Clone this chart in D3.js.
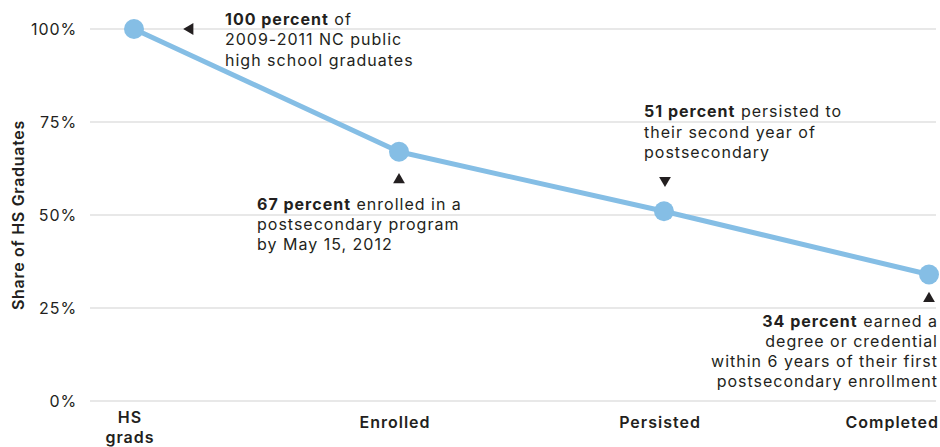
<!DOCTYPE html>
<html>
<head>
<meta charset="utf-8">
<script src="https://cdn.jsdelivr.net/npm/d3@7/dist/d3.min.js"></script>
<style>
  html, body { margin: 0; padding: 0; background: #fff; }
  svg { display: block; font-family: Inter, "Open Sans", sans-serif; }
</style>
</head>
<body>
<svg id="chart" width="940" height="447"></svg>
<script>
// Stages of the postsecondary pipeline and the share of graduates reaching each
const stages = ["HS grads", "Enrolled", "Persisted", "Completed"];
const shares = [100, 67, 51, 34];
const yTicks = [0, 25, 50, 75, 100];

// Axis label lines for each stage
const stageLabels = [["HS", "grads"], ["Enrolled"], ["Persisted"], ["Completed"]];

// Callout text for each stage: bold lead, then the rest of the lines
const noteLead = ["100 percent", "67 percent", "51 percent", "34 percent"];
const noteLines = [
  [" of", "2009-2011 NC public", "high school graduates"],
  [" enrolled in a", "postsecondary program", "by May 15, 2012"],
  [" persisted to", "their second year of", "postsecondary"],
  [" earned a", "degree or credential", "within 6 years of their first", "postsecondary enrollment"]
];

const svg = d3.select("#chart");

const x = d3.scalePoint().domain(stages).range([134, 929]);
const y = d3.scaleLinear().domain([0, 100]).range([401, 29]);

const lineColor = "#85bee5";
const textColor = "#231f20";
const fontSize = 16;

// Horizontal gridlines
svg.append("g")
  .selectAll("line")
  .data(yTicks)
  .join("line")
  .attr("x1", 90).attr("x2", 936)
  .attr("y1", d => y(d)).attr("y2", d => y(d))
  .attr("stroke", "#e0e0e0")
  .attr("stroke-width", 1.5);

// Y axis tick labels
const yAxis = d3.axisLeft(y).tickValues(yTicks).tickFormat(d => d + "%").tickSize(0).tickPadding(0);
svg.append("g")
  .attr("transform", "translate(77,0)")
  .call(yAxis)
  .call(g => g.select(".domain").remove())
  .call(g => g.selectAll("text")
    .attr("font-family", "Inter, sans-serif")
    .attr("font-size", 16)
    .attr("fill", textColor)
    .attr("dy", "0.36em")
    .attr("letter-spacing", 0.9));

// Y axis title
svg.append("text")
  .attr("transform", `translate(24,${y(50)}) rotate(-90)`)
  .attr("text-anchor", "middle")
  .attr("font-size", 16)
  .attr("font-weight", 600)
  .attr("letter-spacing", 0.7)
  .attr("fill", textColor)
  .text("Share of HS Graduates");

// X axis stage labels
const xl = svg.append("g");
stageLabels.forEach((lines, i) => {
  const last = i === stages.length - 1;
  const lx = last ? 939 : x(stages[i]) - 4;
  const t = xl.append("text")
    .attr("x", lx)
    .attr("y", lines.length > 1 ? 423 : 428)
    .attr("text-anchor", last ? "end" : "middle")
    .attr("font-size", 16)
    .attr("font-weight", 600)
    .attr("letter-spacing", 1)
    .attr("fill", textColor);
  lines.forEach((s, j) => {
    t.append("tspan")
      .attr("x", lx)
      .attr("dy", j === 0 ? 0 : 19.5)
      .text(s);
  });
});

// The line and its points
const data = stages.map((s, i) => ({ stage: s, value: shares[i] }));
svg.append("path")
  .datum(data)
  .attr("fill", "none")
  .attr("stroke", lineColor)
  .attr("stroke-width", 5)
  .attr("stroke-linejoin", "round")
  .attr("d", d3.line().x(d => x(d.stage)).y(d => y(d.value)));

svg.append("g")
  .selectAll("circle")
  .data(data)
  .join("circle")
  .attr("cx", d => x(d.stage))
  .attr("cy", d => y(d.value))
  .attr("r", 10)
  .attr("fill", lineColor);

// Pointer triangles: offset from each point and rotation
const tri = d3.symbol().type(d3.symbolTriangle).size(60);
const pointers = [
  { dx: 56, dy: 0, rot: -90 },
  { dx: 0, dy: 28, rot: 0 },
  { dx: 1, dy: -31, rot: 180 },
  { dx: 0, dy: 24, rot: 0 }
];
svg.append("g")
  .selectAll("path")
  .data(data)
  .join("path")
  .attr("d", tri)
  .attr("fill", textColor)
  .attr("transform", (d, i) =>
    `translate(${x(d.stage) + pointers[i].dx},${y(d.value) + pointers[i].dy}) rotate(${pointers[i].rot})`);

// Callout blocks: anchor position relative to each point
const notePos = [
  { dx: 91, dy: -4, anchor: "start" },
  { dx: -142, dy: 58, anchor: "start" },
  { dx: -20, dy: -94, anchor: "start" },
  { dx: 9, dy: 52, anchor: "end" }
];
const lh = 20.3;
data.forEach((d, i) => {
  const p = notePos[i];
  const bx = x(d.stage) + p.dx;
  const by = y(d.value) + p.dy;
  const t = svg.append("text")
    .attr("x", bx).attr("y", by)
    .attr("text-anchor", p.anchor)
    .attr("font-size", fontSize)
    .attr("letter-spacing", 1)
    .attr("fill", textColor);
  t.append("tspan").attr("font-weight", 700).text(noteLead[i]);
  t.append("tspan").text(noteLines[i][0]);
  noteLines[i].slice(1).forEach(s => {
    t.append("tspan").attr("x", bx).attr("dy", lh).text(s);
  });
});
</script>
</body>
</html>
